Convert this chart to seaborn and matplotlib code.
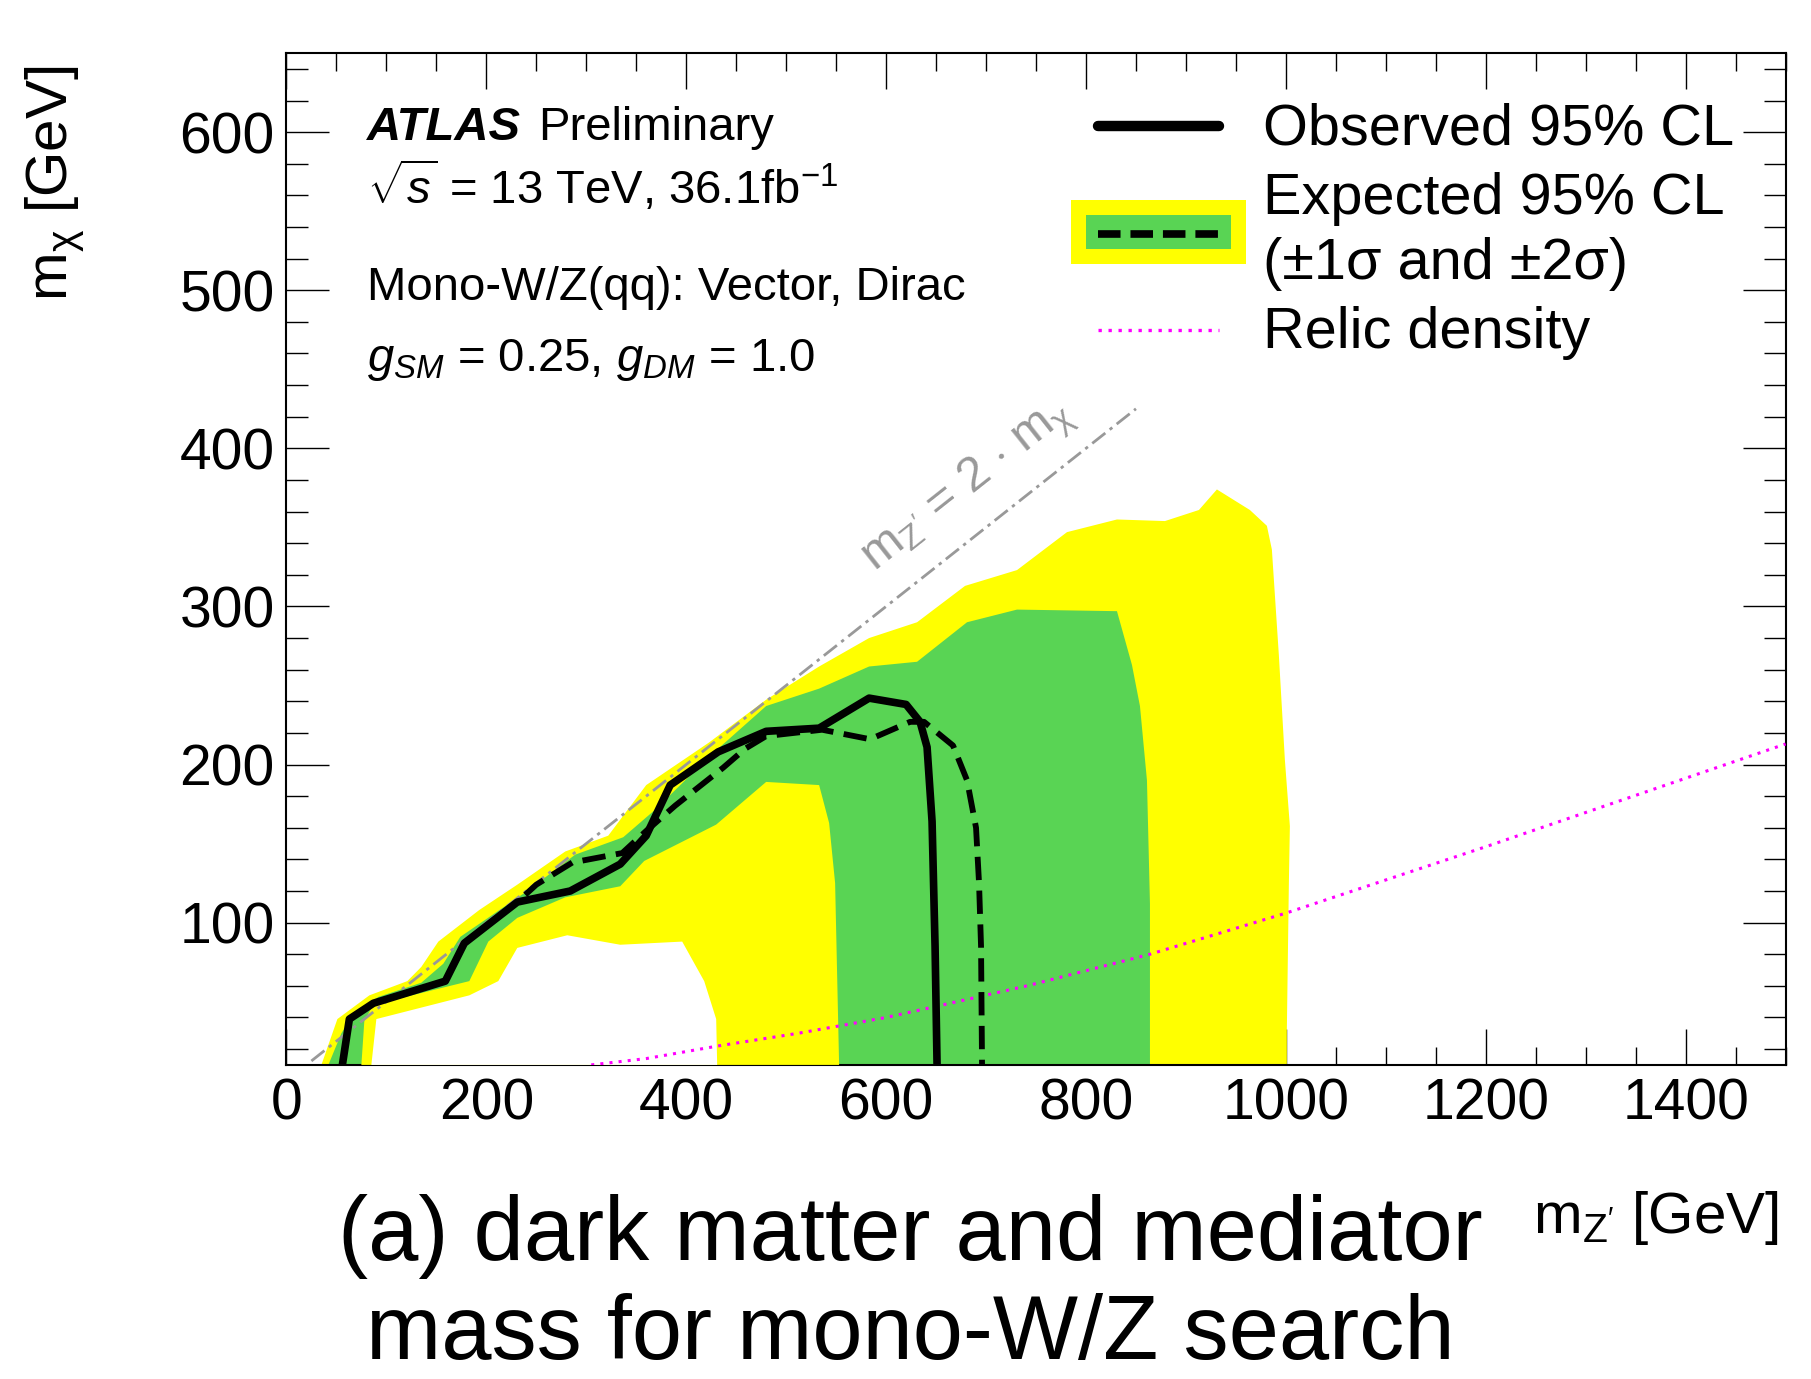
"""
ATLAS mono-W/Z(qq) exclusion contour in the (m_Z', m_chi) plane.
Observed / expected 95% CL limits with 1 and 2 sigma bands and the relic density line.
"""

import numpy as np
import matplotlib
matplotlib.use("Agg")
import matplotlib.pyplot as plt
import seaborn as sns
from matplotlib.lines import Line2D
from matplotlib.patches import Patch
from matplotlib.ticker import MultipleLocator
from matplotlib.legend_handler import HandlerLine2D, HandlerTuple

# ============================================================================
# Data (GeV)
# ============================================================================
obs_mz = [56, 63, 87, 159, 178, 231, 284, 334, 360, 384, 432, 480, 533, 583,
          620, 634, 641, 646, 649, 651]
obs_mchi = [10, 39, 49, 63, 87, 113, 120, 137, 155, 187, 208, 221, 223, 242,
            238, 227, 211, 164, 85, 10]

exp_mz = [56, 63, 87, 159, 178, 231, 250, 286, 336, 360, 389, 437, 459, 480,
          536, 584, 624, 638, 667, 681, 690, 693, 695, 696]
exp_mchi = [10, 39, 49, 63, 87, 113, 124, 138, 144, 158, 174, 198, 210, 218,
            222, 216, 227, 227, 212, 190, 160, 125, 85, 10]

# -2 sigma contour (outer edge of the yellow band)
band2_out_mz = [35, 51, 83, 121, 135, 152, 193, 231, 279, 322, 360, 423, 480,
                533, 583, 631, 679, 731, 781, 831, 879, 913, 931, 964, 981,
                986, 993, 999, 1004, 1003, 1001, 1001]
band2_out_mchi = [10, 39, 54, 63, 72, 88, 108, 124, 145, 155, 187, 214, 241,
                  262, 280, 290, 313, 323, 347, 355, 354, 361, 374, 361, 351,
                  336, 269, 203, 161, 125, 33, 10]

# +2 sigma contour (inner edge of the yellow band)
band2_in_mz = [85, 90, 183, 212, 231, 281, 334, 396, 418, 430, 431]
band2_in_mchi = [10, 39, 54, 63, 84, 92, 86, 88, 63, 39, 10]

# -1 sigma contour (outer edge of the green band)
band1_out_mz = [42, 55, 68, 92, 135, 157, 174, 241, 289, 337, 370, 423, 480,
                533, 583, 631, 681, 731, 831, 846, 854, 861, 864, 864]
band1_out_mchi = [10, 30, 43, 53, 62, 74, 91, 120, 143, 154, 172, 205, 237,
                  248, 262, 265, 290, 298, 297, 263, 237, 190, 112, 10]

# +1 sigma contour (inner edge of the green band)
band1_in_mz = [75, 78, 87, 183, 202, 231, 279, 334, 358, 430, 480, 533, 543,
               549, 553]
band1_in_mchi = [10, 38, 48, 63, 88, 103, 116, 123, 139, 162, 189, 187, 163,
                 125, 10]

relic_mz = [305, 360, 432, 512, 600, 650, 741, 864, 1000, 1200, 1500]
relic_mchi = [10, 14, 22, 30, 40, 47, 60, 80, 106, 148, 213]

# m_Z' = 2 m_chi kinematic line
diag_mz = np.array([25, 850])
diag_mchi = diag_mz / 2

YELLOW = "#ffff00"
GREEN = "#59d454"
GREY = "#999999"
MAGENTA = "#ff00ff"

# ============================================================================
# Style
# ============================================================================
sns.set_theme(style="ticks", rc={
    "axes.edgecolor": "black",
    "axes.labelcolor": "black",
    "text.color": "black",
    "xtick.color": "black",
    "ytick.color": "black",
    "axes.linewidth": 1.5,
})
plt.rcParams["font.family"] = ["Liberation Sans", "DejaVu Sans"]
plt.rcParams.update({
    "mathtext.fontset": "custom",
    "mathtext.rm": "Liberation Sans",
    "mathtext.it": "Liberation Sans:italic",
    "mathtext.bf": "Liberation Sans:bold",
    "mathtext.sf": "Liberation Sans",
})

fig = plt.figure(figsize=(18.11, 13.79), dpi=100)
ax = fig.add_axes([0.15815, 0.22777, 0.82783, 0.73372])

# ============================================================================
# Bands (layered fills) and lines
# ============================================================================
ax.fill(band2_out_mz, band2_out_mchi, color=YELLOW, lw=0, zorder=1)
ax.fill(band1_out_mz, band1_out_mchi, color=GREEN, lw=0, zorder=2)
ax.fill(band1_in_mz, band1_in_mchi, color=YELLOW, lw=0, zorder=3)
ax.fill(band2_in_mz, band2_in_mchi, color="white", lw=0, zorder=4)

sns.lineplot(x=relic_mz, y=relic_mchi, sort=False, estimator=None, ax=ax,
             color=MAGENTA, linewidth=2.2, linestyle=(0, (1, 2)), zorder=5)
sns.lineplot(x=diag_mz, y=diag_mchi, sort=False, estimator=None, ax=ax,
             color=GREY, linewidth=2.0, linestyle=(0, (6, 2, 1.2, 2)), zorder=5)
sns.lineplot(x=exp_mz, y=exp_mchi, sort=False, estimator=None, ax=ax,
             color="black", linewidth=4.2, linestyle=(0, (4.0, 1.8)), zorder=6)
sns.lineplot(x=obs_mz, y=obs_mchi, sort=False, estimator=None, ax=ax,
             color="black", linewidth=5.5, zorder=7)

ax.text(588, 322, r"$\mathrm{m}_{\mathrm{Z}^{\prime}}$ = 2 $\cdot$ m$_{\mathrm{\chi}}$",
        color=GREY, fontsize=35, rotation=np.degrees(np.arctan(0.5)),
        transform_rotates_text=True, rotation_mode="anchor",
        ha="left", va="baseline", zorder=5)

# ============================================================================
# Axes
# ============================================================================
ax.set_xlim(0, 1500)
ax.set_ylim(10, 650)
ax.xaxis.set_major_locator(MultipleLocator(200))
ax.xaxis.set_minor_locator(MultipleLocator(50))
ax.yaxis.set_major_locator(MultipleLocator(100))
ax.yaxis.set_minor_locator(MultipleLocator(20))
ax.tick_params(which="both", direction="in", top=True, right=True, width=1.0)
ax.tick_params(axis="x", which="major", length=26, pad=9, labelsize=41)
ax.tick_params(axis="x", which="minor", length=13)
ax.tick_params(axis="y", which="major", length=31, pad=8.5, labelsize=41)
ax.tick_params(axis="y", which="minor", length=16)

ax.set_xlabel(r"$\mathrm{m}_{\mathrm{Z}^{\prime}}$ [GeV]", fontsize=42, loc="right")
ax.xaxis.set_label_coords(0.9956, -0.166)
ax.xaxis.label.set_va("baseline")
ax.set_ylabel(r"$\mathrm{m}_{\mathrm{\chi}}$ [GeV]", fontsize=42, loc="top")
ax.yaxis.set_label_coords(-0.1543, 0.988)
ax.yaxis.label.set_va("center")

# ============================================================================
# Labels
# ============================================================================
x_txt = 0.0538
atlas = ax.text(x_txt, 0.9141, "ATLAS", transform=ax.transAxes, fontsize=34,
                fontweight="bold", fontstyle="italic", va="baseline")
ax.annotate("Preliminary", xy=(1, 0), xycoords=atlas, xytext=(12, 0),
            textcoords="offset points", fontsize=34, va="bottom")
ax.text(x_txt, 0.8509, r"$\sqrt{s}$ = 13 TeV, 36.1fb$^{-1}$",
        transform=ax.transAxes, fontsize=34, va="baseline")
ax.text(x_txt, 0.7561, "Mono-W/Z(qq): Vector, Dirac",
        transform=ax.transAxes, fontsize=34, va="baseline")
ax.text(x_txt, 0.6859, r"$g_{SM}$ = 0.25, $g_{DM}$ = 1.0",
        transform=ax.transAxes, fontsize=34, va="baseline")

# ============================================================================
# Legend
# ============================================================================
class ShortLine(HandlerLine2D):
    """Line handle drawn a bit shorter than the band box."""
    def __init__(self, inset=0.2, **kw):
        super().__init__(**kw)
        self.inset = inset

    def create_artists(self, legend, orig_handle, xdescent, ydescent,
                       width, height, fontsize, trans):
        d = self.inset * fontsize
        return super().create_artists(legend, orig_handle, xdescent - d,
                                      ydescent, width - 2 * d, height,
                                      fontsize, trans)


h_obs = Line2D([], [], color="black", lw=7.5)
h_exp = (Patch(facecolor=YELLOW, edgecolor=YELLOW, lw=21.6),
         Patch(facecolor=GREEN, edgecolor="none", lw=0),
         Line2D([], [], color="black", lw=5.5, linestyle=(0, (2.95, 1.3))))
h_relic = Line2D([], [], color=MAGENTA, lw=2.4, linestyle=(0, (1, 2)))

leg = ax.legend([h_obs, h_exp, h_relic],
                ["Observed 95% CL", "Expected 95% CL\n(\u00b11\u03c3 and \u00b12\u03c3)",
                 "Relic density"],
                handler_map={tuple: HandlerTuple(ndivide=1, pad=0),
                             Line2D: ShortLine(inset=0.21)},
                loc="upper left", bbox_to_anchor=(0.5332, 0.9507),
                frameon=False, fontsize=41.5, borderpad=0, borderaxespad=0,
                handlelength=2.52, handleheight=0.52, handletextpad=0.55,
                labelspacing=0.26)
leg.get_texts()[1].set_linespacing(1.27)
leg.set_zorder(10)

# ============================================================================
# Caption
# ============================================================================
fig.text(0.5025, 1 - 1260 / 1379, "(a) dark matter and mediator",
         ha="center", va="baseline", fontsize=65)
fig.text(0.5025, 1 - 1359 / 1379, "mass for mono-W/Z search",
         ha="center", va="baseline", fontsize=65)

fig.savefig("out.png", dpi=100)
print("saved out.png")
